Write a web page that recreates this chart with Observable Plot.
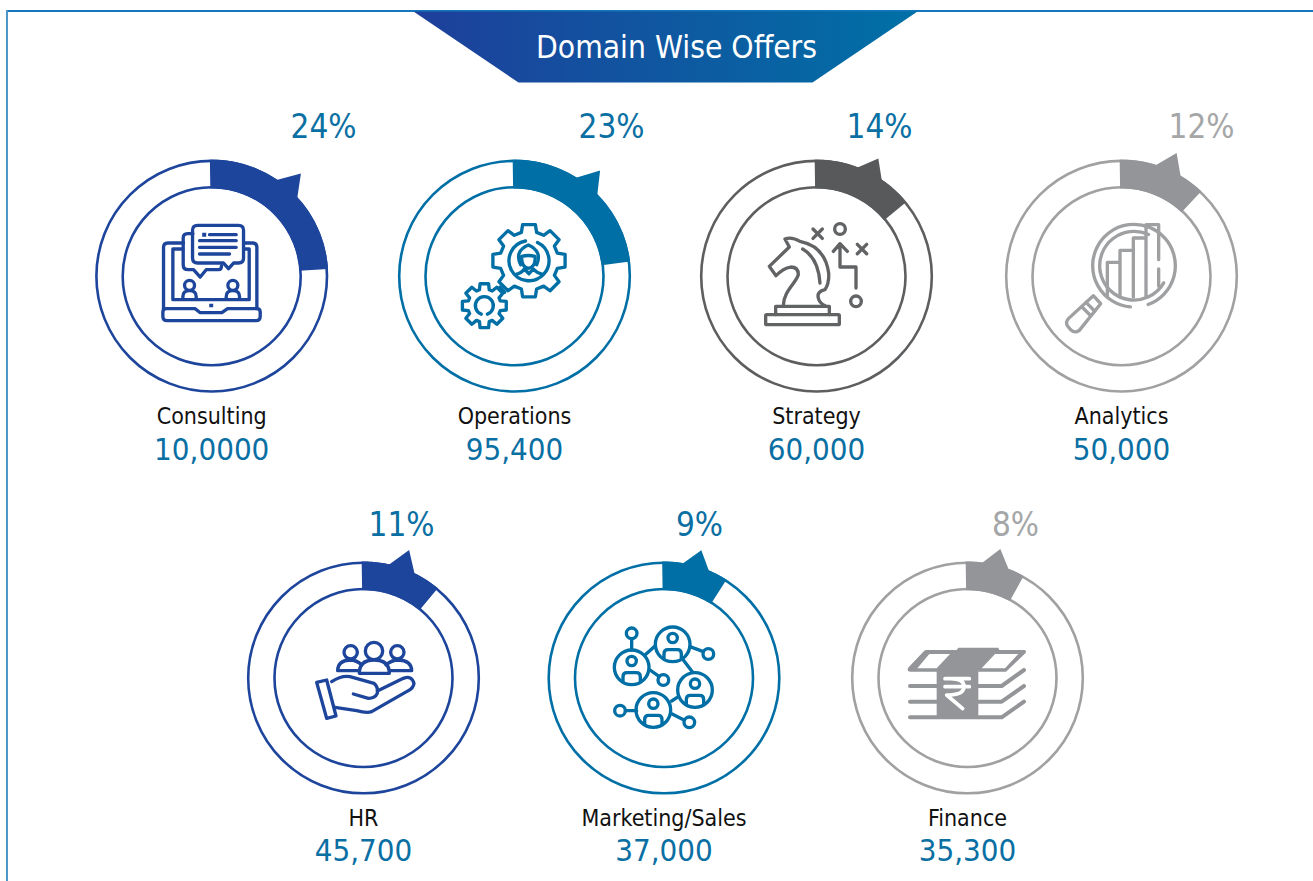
<!DOCTYPE html>
<html>
<head>
<meta charset="utf-8">
<title>Domain Wise Offers</title>
<script src="https://cdn.jsdelivr.net/npm/d3@7"></script>
<script src="https://cdn.jsdelivr.net/npm/@observablehq/plot@0.6"></script>
<style>
html,body{margin:0;padding:0;background:#fff;overflow:hidden}
svg{display:block}
</style>
</head>
<body>
<div id="chart"></div>
<script>
// ---- chart values ----
const title = "Domain Wise Offers";
const domains = ["Consulting","Operations","Strategy","Analytics","HR","Marketing/Sales","Finance"];
const shares = [24,23,14,12,11,9,8];
const offers = ["10,0000","95,400","60,000","50,000","45,700","37,000","35,300"];

// ---- layout and style, kept apart from the values ----
const W = 1313, H = 881, FONT = "'DejaVu Sans Condensed','DejaVu Sans',sans-serif";
const NAVY="#1d459c", TEAL="#006fa6", DARK="#58595b", GREY="#939598";
const ringColor = [NAVY,TEAL,"#5d5e60","#a0a1a3",NAVY,TEAL,"#a0a1a3"];
const iconColor = [NAVY,TEAL,"#626365","#9fa0a2",NAVY,TEAL,GREY];
const wedgeColor = [NAVY,TEAL,DARK,GREY,NAVY,TEAL,GREY];
const shareColor = ["#0a6fa3","#0a6fa3","#0a6fa3","#a4a6a8","#0a6fa3","#0a6fa3","#a4a6a8"];
const centerX = [211.2,514,816,1121,363,663.5,967];
const rowY = [275.7,275.7,275.7,275.7,677.5,677.5,677.5];
const shareX = [323,611,879,1201,401,699,1015];
const shareY = [127,127,127,127,525,525,525];
const tipAngle = [41,39,27.7,24.1,19.6,16.3,14.3];
const tipRadius = [136,136,133,135,136,133,133];
const R_OUT = 115.3, R_IN = 89;
const WEDGE_START = -0.9;

const items = domains.map((domain,i)=>({
  domain, share:shares[i], offer:offers[i],
  cx:centerX[i], cy:rowY[i], i
}));

// position on a ring, angle in degrees clockwise from twelve o'clock
const polar = (d,r,deg)=>{const a=deg*Math.PI/180;return {x:d.cx+r*Math.sin(a),y:d.cy-r*Math.cos(a)}};

function wedge(d){
  const end = d.share/100*360, pts=[], n=Math.ceil(end);
  const at = k => WEDGE_START + (end-WEDGE_START)*k/n;
  for(let k=0;k<=n;k++) pts.push(polar(d,R_OUT+1.2,at(k)));
  for(let k=n;k>=0;k--) pts.push(polar(d,R_IN-1.2,at(k)));
  pts.push(pts[0]);
  return pts;
}
function arrow(d){
  const m=tipAngle[d.i];
  return [polar(d,R_OUT+0.8,m-7),polar(d,tipRadius[d.i],m),polar(d,R_OUT+0.8,m+6.5),polar(d,R_OUT-8,m)];
}

// ---- pictograms (decoration): paths in thirds of a pixel, anchored on the ring centre ----
function gear(cx,cy,ro,ri,n,d1,d2,rot=0){
  let s="";
  for(let k=0;k<n;k++){
    const a=rot+k*360/n;
    [[ri,a-d1],[ro,a-d2],[ro,a+d2],[ri,a+d1]].forEach(([r,t],j)=>{
      const q=t*Math.PI/180;
      s+=(k===0&&j===0?"M":"L")+(cx+r*Math.sin(q)).toFixed(1)+" "+(cy-r*Math.cos(q)).toFixed(1);
    });
  }
  return s+"Z";
}
const circle=(x,y,r)=>`M${x-r} ${y}a${r} ${r} 0 1 0 ${2*r} 0a${r} ${r} 0 1 0 ${-2*r} 0Z`;
const cross=(x,y,r)=>`M${x-r} ${y-r}L${x+r} ${y+r}M${x+r} ${y-r}L${x-r} ${y+r}`;
const arcPath=(cx,cy,r,a0,a1)=>{
  const p=t=>{const q=t*Math.PI/180;return (cx+r*Math.sin(q)).toFixed(1)+" "+(cy-r*Math.cos(q)).toFixed(1)};
  return `M${p(a0)}A${r} ${r} 0 ${Math.abs(a1-a0)>180?1:0} 1 ${p(a1)}`;
};
const person=(x,y)=>circle(x,y-19,14)+`M${x-26} ${y+44}V${y+28}Q${x-26} ${y+16} ${x-14} ${y+16}H${x+14}Q${x+26} ${y+16} ${x+26} ${y+28}V${y+44}`;

const icons = [
 { // laptop call
  dx:-61, dy:-61, w:10,
  stroke:[
   "M40 282V98Q40 85 53 85H100M282 85H307Q320 85 320 98V282",
   "M68 255V103H98M282 103H297V255H68",
   "M38 292Q38 282 48 282H135L150 294H215L232 282H320Q330 282 330 292V305Q330 318 318 318H50Q38 318 38 305Z",
   "M128 57H112Q99 57 99 70V150Q99 165 114 165H130L150 187L168 165H205Q214 165 214 153",
   "M142 32H265Q280 32 280 47V130Q280 145 265 145H250L235 162L220 145H142Q127 145 127 130V47Q127 32 142 32Z",
   "M178 60H258M148 78H258M148 98H258M148 118H238",
   circle(118,212,15),circle(248,212,15),
   "M98 253V246Q98 228 118 228Q138 228 138 246V253M228 253V246Q228 228 248 228Q268 228 268 246V253"
  ],
  fill:["M156 54h12v12h-12ZM177 267h12v11h-12Z"]
 },
 { // gears and agent
  dx:-74, dy:-66, w:10,
  stroke:[
   gear(267,153,110,88,8,15,10),
   arcPath(267,153,60,25,350),
   gear(133,288,67,50,8,17,11),
   arcPath(133,288,27,200,520),
   "M180 232L194 248",
   "M242 165Q222 125 265 106Q308 125 290 165",
   "M245 140Q265 135 285 140Q288 172 265 176Q243 172 245 140",
   "M228 194Q245 190 253 178L267 192L280 178Q290 190 308 194"
  ],
  fill:[]
 },
 { // chess knight
  dx:-66, dy:-66, w:10,
  stroke:[
   "M50 315H265Q268 315 268 318V342Q268 345 265 345H50Q47 345 47 342V318Q47 315 50 315Z",
   "M77 315V290H238V315",
   "M100 288C100 245 140 218 145 195Q145 172 122 172Q100 175 78 198L58 170L118 112L105 88Q125 80 150 95Q225 110 236 190Q238 220 225 240Q200 245 205 265Q208 280 225 288",
   "M158 118Q205 145 210 220",
   "M318 235V172H270V102M250 125L270 102L292 125",
   circle(270,58,16),circle(318,275,16),
   cross(203,72,14),cross(336,118,14)
  ],
  fill:[]
 },
 { // magnifier with bars
  dx:-71, dy:-66, w:10,
  stroke:[
   arcPath(252,168,124,185,520),
   arcPath(252,168,103,-100,25),
   arcPath(252,168,103,120,260),
   "M172 262V158H210M210 262V122H250M250 262V85H288M288 262V45H326V150M326 178V230",
   "M130 258L152 282L88 362Q75 372 62 360L52 348Q46 336 56 326Z",
   "M108 278L134 304M96 292L120 316"
  ],
  fill:[]
 },
 { // hand holding people
  dx:-63, dy:-57.5, w:10,
  stroke:[
   circle(152,97,20),circle(222,93,26),circle(292,97,20),
   "M178 160Q178 120 222 120Q268 120 268 160Z",
   "M178 152H113Q113 122 150 120Q170 120 185 135",
   "M268 152H335Q335 122 295 120Q275 120 258 135",
   "M50 187L80 180L108 288L80 295Z",
   "M95 185Q125 165 150 170L222 190Q235 200 232 220Q225 235 205 235L160 222",
   "M232 213L310 175Q335 165 342 190Q340 205 325 212L215 275Q200 280 170 272L105 262"
  ],
  fill:[]
 },
 { // people network
  dx:-63.5, dy:-62.5, w:10,
  stroke:[
   circle(95,157,52),circle(218,88,52),circle(285,225,52),circle(160,285,52),
   person(95,157),person(218,88),person(285,225),person(160,285),
   circle(95,55,16),circle(325,117,16),circle(190,195,16),circle(60,287,16),circle(268,322,16),
   "M95 71V105M135 120L165 93M270 95L310 110M250 135L278 172M150 165L178 185M215 258L235 245M110 287H76M212 295L252 315"
  ],
  fill:[]
 },
 { // banknotes with rupee
  dx:-67, dy:-47.5, w:12,
  stroke:[
   "M30 168H110M30 215H110M30 262H110M235 168H305L372 120M235 215H305L372 168M235 262H305L372 215"
  ],
  fill:[
   "M78 60H170L175 53H295L298 60H372Q382 62 376 70L318 125H235V268H110V125H30Q18 122 26 112L70 65Q74 60 78 60Z"
  ],
  white:[
   "M52 115L88 72H150L110 115ZM245 115L285 72H355L315 115Z"
  ],
  rupee:"M135 146H208M135 170H208M152 146Q192 146 192 170Q192 195 140 195L188 236"
 }
];

const iconMark = (index,{x,y})=>{
  const root=d3.create("svg:g").attr("class","icons");
  items.forEach(d=>{
    const ic=icons[d.i], col=iconColor[d.i];
    const g=root.append("g").attr("transform",`translate(${x(d.cx)+ic.dx},${y(d.cy)+ic.dy}) scale(${1/3})`);
    (ic.fill||[]).forEach(p=>g.append("path").attr("d",p).attr("fill",col));
    (ic.white||[]).forEach(p=>g.append("path").attr("d",p).attr("fill","#fff"));
    ic.stroke.forEach(p=>g.append("path").attr("d",p).attr("fill","none").attr("stroke",col)
      .attr("stroke-width",ic.w).attr("stroke-linejoin","round").attr("stroke-linecap","round"));
    if(ic.rupee) g.append("path").attr("d",ic.rupee).attr("fill","none").attr("stroke","#fff")
      .attr("stroke-width",11).attr("stroke-linecap","round").attr("stroke-linejoin","round");
  });
  return root.node();
};
const gradientMark = ()=>{
  const defs=d3.create("svg:defs");
  const lg=defs.append("linearGradient").attr("id","banner").attr("x1","0").attr("x2","1").attr("y1","0").attr("y2","0");
  lg.append("stop").attr("offset","0").attr("stop-color","#1e3f9b");
  lg.append("stop").attr("offset","1").attr("stop-color","#0070a6");
  return defs.node();
};

const textBase = {fontFamily:FONT, textAnchor:"middle", lineAnchor:"middle"};
const banner = [{x:413,y:11},{x:917,y:11},{x:812,y:82},{x:518,y:82},{x:413,y:11}];

const chart = Plot.plot({
  width:W, height:H, margin:0,
  x:{axis:null, domain:[0,W], range:[0,W]},
  y:{axis:null, domain:[0,H], range:[0,H]},
  color:{type:"identity"},
  style:{background:"#fff"},
  marks:[
    gradientMark,
    Plot.ruleY([10.5],{x1:6,x2:W,stroke:"#1476bb",strokeWidth:2}),
    Plot.ruleX([6.5],{y1:10,y2:H,stroke:"#4f97c6",strokeWidth:2}),
    Plot.line(banner,{x:"x",y:"y",fill:"url(#banner)",stroke:"none"}),
    Plot.text([title],{...textBase,x:()=>676,y:()=>47,text:d=>d,fill:"#fff",fontSize:31.5}),
    Plot.dot(items,{x:"cx",y:"cy",r:R_OUT,fill:"none",stroke:d=>ringColor[d.i],strokeWidth:2.6}),
    Plot.dot(items,{x:"cx",y:"cy",r:R_IN,fill:"none",stroke:d=>ringColor[d.i],strokeWidth:2.6}),
    ...items.map(d=>Plot.line(wedge(d),{x:"x",y:"y",fill:wedgeColor[d.i],stroke:"none"})),
    ...items.map(d=>Plot.line([...arrow(d),arrow(d)[0]],{x:"x",y:"y",fill:wedgeColor[d.i],stroke:"none"})),
    iconMark,
    Plot.text(items,{...textBase,x:d=>shareX[d.i],y:d=>shareY[d.i],text:d=>d.share+"%",fill:d=>shareColor[d.i],fontSize:33}),
    Plot.text(items,{...textBase,x:"cx",y:d=>d.cy+140.3,text:"domain",fill:"#111",fontSize:23}),
    Plot.text(items,{...textBase,x:"cx",y:d=>d.cy+173.5,text:"offer",fill:"#0a6fa3",fontSize:31})
  ]
});
document.getElementById("chart").append(chart);
</script>
</body>
</html>
